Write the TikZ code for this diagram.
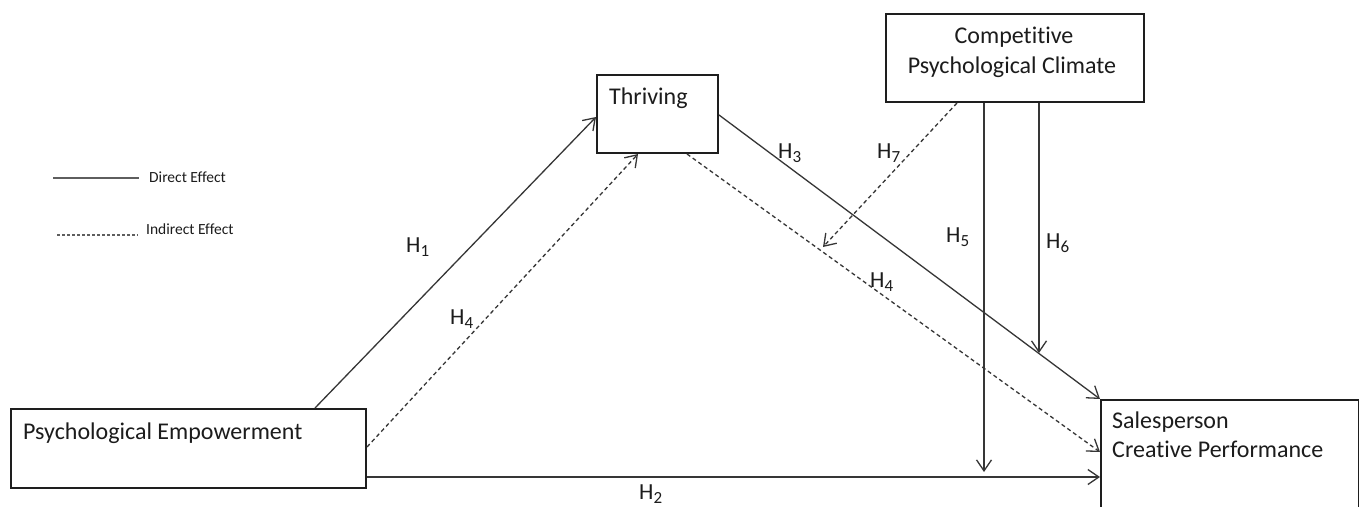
\documentclass[tikz,border=0pt]{standalone}
\usepackage{fontspec}
\setmainfont{Carlito}[Ligatures=NoCommon]
\usetikzlibrary{arrows.meta,calc}
\definecolor{lineC}{HTML}{363636}
\definecolor{boxC}{HTML}{1E1E1E}
\definecolor{txtC}{HTML}{1C1C1C}
\newcommand{\Hlab}[1]{H\raisebox{-4pt}{\fontsize{17pt}{17pt}\selectfont #1}}
\tikzset{
  box/.style={draw=boxC, line width=2pt, rectangle, inner sep=0pt},
  boxtext/.style={anchor=base west, inner sep=0pt, font=\fontsize{24pt}{29pt}\selectfont, text=txtC},
  hlab/.style={anchor=base west, inner sep=0pt, font=\fontsize{23pt}{27pt}\selectfont, text=txtC},
  direct/.style={draw=lineC, line width=1.3pt, -{Straight Barb[length=11pt,width=15pt]}},
  indirect/.style={direct, dash pattern=on 4pt off 3pt},
  legline/.style={draw=lineC!80, line width=1.2pt},
  legtext/.style={anchor=base west, inner sep=0pt, font=\fontsize{15.5pt}{18pt}\selectfont, text=txtC},
}
\begin{document}
\begin{tikzpicture}[x=1pt,y=-1pt]
\useasboundingbox (0,0) rectangle (1359,506);
\fill[white] (0,0) rectangle (1359,506);

% boxes
\node[box, minimum width=355pt, minimum height=79pt, anchor=north west] (pe) at (10,408) {};
\node[box, minimum width=121pt, minimum height=78pt, anchor=north west] (thr) at (596,74) {};
\node[box, minimum width=258pt, minimum height=88pt, anchor=north west] (cpc) at (885,13) {};
\node[box, minimum width=258pt, minimum height=125pt, anchor=north west] (scp) at (1100,399) {};

% box texts
\node[boxtext] (pe-t) at (23,439) {Psychological Empowerment};
\node[boxtext] (thr-t) at (609,104) {Thriving};
\node[boxtext, anchor=base] (cpc-t1) at (1014,43) {Competitive};
\node[boxtext, anchor=base] (cpc-t2) at (1012,73) {Psychological Climate};
\node[boxtext] (scp-t1) at (1112,428) {Salesperson};
\node[boxtext] (scp-t2) at (1112,457) {Creative Performance};

% free ends
\coordinate (h5end) at (984,472);
\coordinate (h6end) at (1039,353);
\coordinate (h7end) at (823,247);

% connectors
\draw[direct] ($(pe.north west)+(305,0)$) -- ($(thr.north west)+(0,43)$);
\draw[indirect] ($(pe.north east)+(0,39)$) -- ($(thr.south west)+(42,0)$);
\draw[direct] ($(thr.north east)+(0,41)$) -- (scp.north west);
\draw[indirect] ($(thr.south west)+(91,0)$) -- ($(scp.north west)+(0,53)$);
\draw[direct] ($(pe.north east)+(0,69)$) -- ($(scp.north west)+(0,78)$);
\draw[direct] ($(cpc.south west)+(99,0)$) -- (h5end);
\draw[direct] ($(cpc.south west)+(154,0)$) -- (h6end);
\draw[indirect] ($(cpc.south west)+(72,0)$) -- (h7end);

% hypothesis labels
\node[hlab] (h1) at (406,252) {\Hlab{1}};
\node[hlab] (h4a) at (450,324) {\Hlab{4}};
\node[hlab] (h3) at (778,158) {\Hlab{3}};
\node[hlab] (h7) at (877,158) {\Hlab{7}};
\node[hlab] (h5) at (946,242) {\Hlab{5}};
\node[hlab] (h6) at (1046,248) {\Hlab{6}};
\node[hlab] (h4b) at (870,287) {\Hlab{4}};
\node[hlab] (h2) at (639,499) {\Hlab{2}};

% legend
\coordinate (lg1a) at (53,178);
\coordinate (lg1b) at (139,178);
\coordinate (lg2a) at (57,235);
\coordinate (lg2b) at (138,235);
\draw[legline] (lg1a) -- (lg1b);
\draw[legline, dash pattern=on 3pt off 2pt] (lg2a) -- (lg2b);
\node[legtext] (leg1) at (149,182) {Direct Effect};
\node[legtext] (leg2) at (146,234) {Indirect Effect};
\end{tikzpicture}
\end{document}
